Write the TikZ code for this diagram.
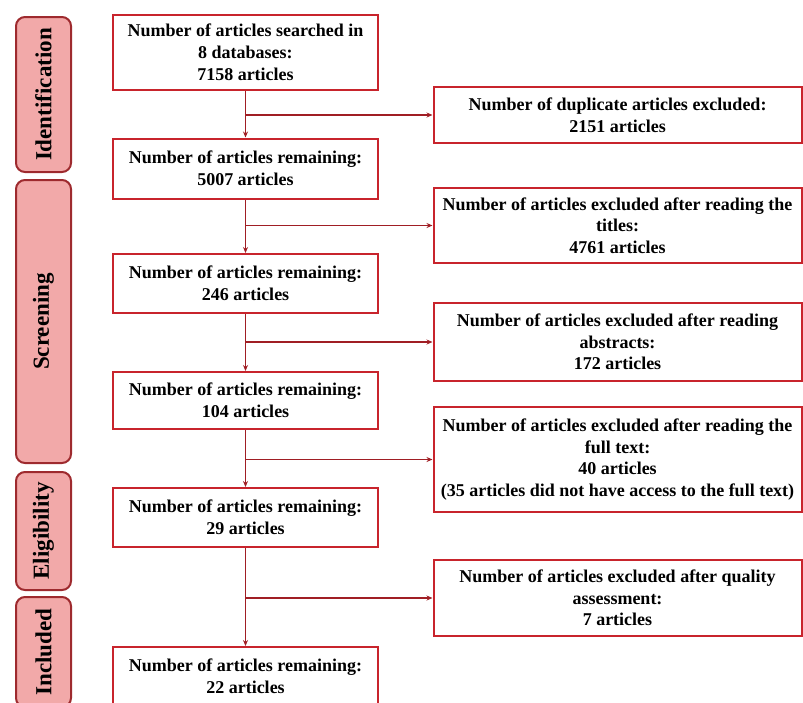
\documentclass[tikz,border=0pt]{standalone}
\usepackage{fontspec}
\setmainfont{Liberation Serif}
\usetikzlibrary{arrows.meta}
\definecolor{boxred}{HTML}{C8242C}
\definecolor{linered}{HTML}{A01E24}
\definecolor{stagefill}{HTML}{F2A9A9}
\definecolor{stageline}{HTML}{9E2A2E}
\begin{document}
\begin{tikzpicture}[x=1pt,y=-1pt,
    mainbox/.style={draw=boxred, line width=2pt, fill=white, align=center,
      minimum width=265pt, inner sep=0pt,
      font=\bfseries\fontsize{18}{22}\selectfont},
    sidebox/.style={draw=boxred, line width=2pt, fill=white, align=center,
      minimum width=368pt, inner sep=0pt,
      font=\bfseries\fontsize{18}{21.5}\selectfont},
    stage/.style={draw=stageline, line width=2pt, fill=stagefill,
      rounded corners=9pt, rotate=90, minimum height=55pt, inner sep=0pt,
      font=\bfseries\fontsize{23}{26}\selectfont},
    flow/.style={draw=linered, line width=1.3pt, -{Stealth[length=6pt,width=5pt]}}]
  \useasboundingbox (0,0) rectangle (803,702);

  % stages on the left
  \node[stage, minimum width=155pt] (ident) at (43.5,94.5) {Identification};
  \node[stage, minimum width=283pt] (screen) at (43.5,321.5) {Screening};
  \node[stage, minimum width=118pt] (elig) at (43.5,531) {Eligibility};
  \node[stage, minimum width=110pt] (incl) at (43.5,652) {Included};

  % main column
  \node[mainbox, minimum height=75pt] (b1) at (245.5,52.5)
    {Number of articles searched in\\8 databases:\\7158 articles};
  \node[mainbox, minimum height=60pt] (b2) at (245.5,168.5)
    {Number of articles remaining:\\5007 articles};
  \node[mainbox, minimum height=59pt] (b3) at (245.5,283.5)
    {Number of articles remaining:\\246 articles};
  \node[mainbox, minimum height=57pt] (b4) at (245.5,400.5)
    {Number of articles remaining:\\104 articles};
  \node[mainbox, minimum height=59pt] (b5) at (245.5,517.5)
    {Number of articles remaining:\\29 articles};
  \node[mainbox, minimum height=59pt] (b6) at (245.5,676.5)
    {Number of articles remaining:\\22 articles};

  % exclusions on the right
  \node[sidebox, minimum height=56pt] (r1) at (617.5,115)
    {Number of duplicate articles excluded:\\2151 articles};
  \node[sidebox, minimum height=75pt] (r2) at (617.5,225.5)
    {Number of articles excluded after reading the\\titles:\\4761 articles};
  \node[sidebox, minimum height=78pt] (r3) at (617.5,342)
    {Number of articles excluded after reading\\abstracts:\\172 articles};
  \node[sidebox, minimum height=105pt] (r4) at (617.5,459.5)
    {Number of articles excluded after reading the\\full text:\\40 articles\\(35 articles did not have access to the full text)};
  \node[sidebox, minimum height=76pt] (r5) at (617.5,598)
    {Number of articles excluded after quality\\assessment:\\7 articles};

  % connectors
  \foreach \a/\b/\r in {b1/b2/r1,b2/b3/r2,b3/b4/r3,b4/b5/r4,b5/b6/r5}{
    \draw[flow] (\a.south) -- (\b.north);
    \coordinate (j\r) at (\a.south |- \r.west);
    \draw[flow] (j\r) -- (\r.west);
  }
\end{tikzpicture}
\end{document}
